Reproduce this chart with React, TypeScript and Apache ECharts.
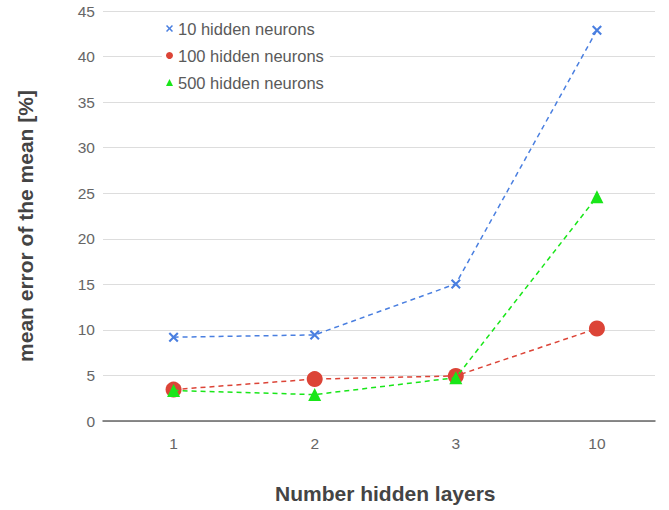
import React, { useEffect, useRef } from "react";
import * as echarts from "echarts";

const categories = ["1", "2", "3", "10"];
const seriesNames = ["10 hidden neurons", "100 hidden neurons", "500 hidden neurons"];
const neurons10 = [9.2, 9.45, 15.05, 42.9];
const neurons100 = [3.45, 4.6, 4.95, 10.15];
const neurons500 = [3.35, 2.9, 4.75, 24.6];
const yTicks = { min: 0, max: 45, interval: 5 };

const crossPath =
  "path://M1.5,0 L5,3.5 L8.5,0 L10,1.5 L6.5,5 L10,8.5 L8.5,10 L5,6.5 L1.5,10 L0,8.5 L3.5,5 L0,1.5 Z";

export default function App() {
  const ref = useRef<HTMLDivElement>(null);
  useEffect(() => {
    if (!ref.current) return;
    const chart = echarts.init(ref.current, undefined, { renderer: "svg" });
    const font = "Liberation Sans, Arial, sans-serif";
    const blue = "#4a7fe0";
    const red = "#dc4437";
    const green = "#19e619";
    chart.setOption({
      animation: false,
      textStyle: { fontFamily: font },
      legend: {
        orient: "vertical",
        left: 162,
        top: 18,
        itemWidth: 7,
        itemHeight: 7,
        itemGap: 10,
        backgroundColor: "#ffffff",
        padding: [2, 6, 2, 4],
        textStyle: { fontSize: 16.5, color: "#5a5a5a", fontFamily: font },
        data: [
          { name: seriesNames[0], icon: crossPath },
          { name: seriesNames[1], icon: "circle" },
          { name: seriesNames[2], icon: "triangle" },
        ],
        z: 10,
      },
      grid: [
        { left: 103, right: 1.5, top: 11, bottom: 89 },
        { left: 103, right: 14, top: 11, bottom: 89 },
      ],
      xAxis: [
        {
          type: "category",
          gridIndex: 0,
          data: categories,
          boundaryGap: true,
          axisLine: { show: false },
          axisTick: { show: false },
          axisLabel: { fontSize: 15.5, color: "#666666", margin: 14, fontFamily: font },
          name: "Number hidden layers",
          nameLocation: "middle",
          nameGap: 62,
          nameTextStyle: { fontSize: 21, fontWeight: "bold", color: "#444444", fontFamily: font },
        },
        {
          type: "value",
          gridIndex: 1,
          min: 0,
          max: 1,
          axisLine: { show: true, onZero: false, lineStyle: { color: "#666666", width: 1.5 } },
          axisTick: { show: false },
          axisLabel: { show: false },
          splitLine: { show: false },
        },
      ],
      yAxis: [
        {
          type: "value",
          gridIndex: 0,
          min: yTicks.min,
          max: yTicks.max,
          interval: yTicks.interval,
          axisLine: { show: false },
          axisTick: { show: false },
          axisLabel: { show: false },
          splitLine: { show: false },
        },
        {
          type: "value",
          gridIndex: 1,
          min: yTicks.min,
          max: yTicks.max,
          interval: yTicks.interval,
          axisLine: { show: false },
          axisTick: { show: false },
          axisLabel: { fontSize: 15.5, color: "#666666", margin: 8, fontFamily: font },
          splitLine: { show: true, lineStyle: { color: "#dddddd", width: 1 } },
          name: "mean error of the mean [%]",
          nameLocation: "middle",
          nameGap: 67,
          nameTextStyle: {
            fontSize: 21,
            fontWeight: "bold",
            color: "#444444",
            fontFamily: font,
            padding: [0, 20, 0, 0],
          },
        },
      ],
      series: [
        {
          name: seriesNames[0],
          type: "line",
          xAxisIndex: 0,
          yAxisIndex: 0,
          data: neurons10,
          symbol: crossPath,
          symbolSize: 10,
          itemStyle: { color: blue },
          lineStyle: { color: blue, type: [5, 4], width: 1.5 },
          z: 3,
        },
        {
          name: seriesNames[1],
          type: "line",
          xAxisIndex: 0,
          yAxisIndex: 0,
          data: neurons100,
          symbol: "circle",
          symbolSize: 16,
          itemStyle: { color: red },
          lineStyle: { color: red, type: [5, 4], width: 1.5 },
          z: 2,
        },
        {
          name: seriesNames[2],
          type: "line",
          xAxisIndex: 0,
          yAxisIndex: 0,
          data: neurons500,
          symbol: "triangle",
          symbolSize: 13,
          itemStyle: { color: green },
          lineStyle: { color: green, type: [5, 4], width: 1.5 },
          z: 4,
        },
      ],
    });
    return () => chart.dispose();
  }, []);
  return <div ref={ref} style={{ width: 669, height: 510, position: "absolute", left: 0, top: 0 }} />;
}
